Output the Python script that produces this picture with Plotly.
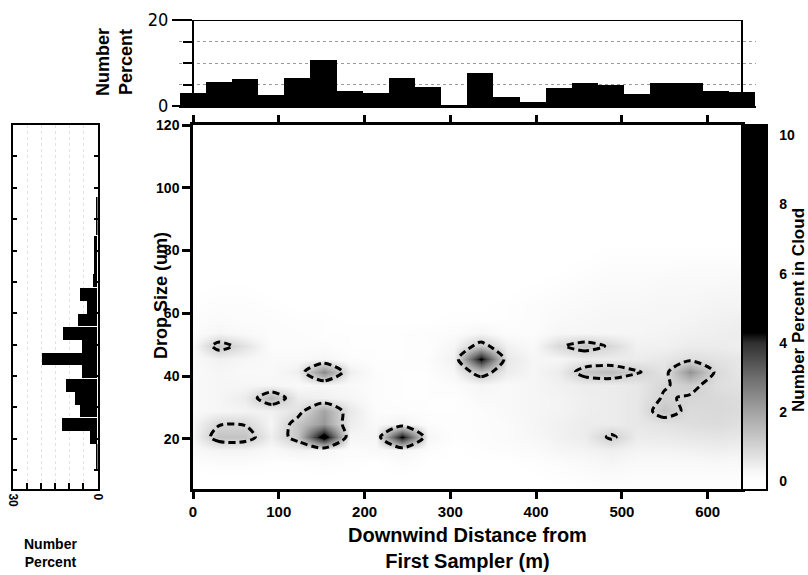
import plotly.graph_objects as go

W, H = 808, 575

# grid of the cloud map
distance = [0, 30.48, 60.95, 91.43, 121.9, 152.38, 182.86, 213.33, 243.81, 274.29, 304.76,
            335.24, 365.71, 396.19, 426.67, 457.14, 487.62, 518.1, 548.57, 579.05, 609.52, 640]
drop_size = [4, 8.14, 12.29, 16.43, 20.57, 24.71, 28.86, 33, 37.14, 41.29, 45.43, 49.57,
             53.71, 57.86, 62, 66.14, 70.29, 74.43, 78.57, 82.71, 86.86, 91, 95.14, 99.29,
             103.43, 107.57, 111.71, 115.86, 120]

# number percent per distance bin (top histogram)
dist_percent = [3.0, 5.5, 6.3, 2.6, 6.4, 10.6, 3.4, 3.0, 6.6, 4.4, 0.15,
                7.6, 2.1, 0.9, 4.2, 5.3, 4.9, 2.8, 5.3, 5.3, 3.4, 3.2]

# number percent per drop size bin (left histogram)
size_percent = [0, 0, 0.4, 0.6, 2.4, 12.6, 6.0, 7.9, 11.0, 5.4, 19.8, 5.4, 12.3,
                6.7, 3.6, 6.2, 1.5, 1.3, 1.0, 1.0, 0.6, 0.4, 0.2, 0, 0, 0, 0, 0, 0]

# number percent in cloud, one row per drop size (bottom row first)
cloud = [
    [0, 0, 0, 0, 0, 0, 0, 0, 0, 0, 0, 0, 0, 0, 0, 0, 0.05, 0.05, 0.05, 0.05, 0.05, 0.05],
    [0, 0, 0, 0, 0, 0, 0, 0, 0, 0, 0, 0, 0, 0, 0.05, 0.1, 0.15, 0.1, 0.1, 0.1, 0.1, 0.1],
    [0.05, 0.1, 0.1, 0.05, 0.05, 0.1, 0.05, 0, 0.1, 0, 0, 0, 0, 0.05, 0.1, 0.2, 0.3, 0.2, 0.2, 0.2, 0.25, 0.2],
    [0.2, 0.35, 0.35, 0.2, 0.4, 0.3, 0.1, 0.2, 0.3, 0.1, 0, 0.05, 0.1, 0.15, 0.3, 0.35, 0.45, 0.35, 0.35, 0.4, 0.45, 0.4],
    [0.3, 1.35, 1.35, 0.45, 1.3, 5.0, 0.3, 0.3, 4.5, 0.3, 0.05, 0.1, 0.15, 0.25, 0.4, 0.5, 1.12, 0.5, 0.55, 0.6, 0.65, 0.6],
    [0.3, 0.95, 0.95, 0.3, 1.3, 2.2, 0.5, 0.2, 0.4, 0.1, 0.05, 0.1, 0.15, 0.3, 0.4, 0.5, 0.5, 0.6, 0.7, 0.8, 0.85, 0.75],
    [0.2, 0.3, 0.35, 0.4, 0.7, 2.0, 0.6, 0.1, 0.1, 0.05, 0.05, 0.1, 0.2, 0.3, 0.35, 0.45, 0.5, 0.6, 1.3, 0.85, 0.9, 0.85],
    [0.2, 0.3, 0.5, 1.6, 0.5, 0.4, 0.3, 0.1, 0.05, 0.05, 0.05, 0.2, 0.2, 0.3, 0.35, 0.45, 0.5, 0.6, 1.05, 0.95, 0.9, 0.8],
    [0.2, 0.3, 0.3, 0.3, 0.2, 0.3, 0.2, 0.1, 0.05, 0.05, 0.1, 0.3, 0.2, 0.3, 0.4, 0.5, 0.5, 0.6, 0.95, 1.15, 0.8, 0.7],
    [0.2, 0.3, 0.2, 0.2, 0.45, 2.5, 0.45, 0.1, 0.05, 0.05, 0.3, 1.4, 0.5, 0.3, 0.5, 1.3, 1.5, 1.05, 0.7, 2.3, 0.9, 0.6],
    [0.2, 0.4, 0.3, 0.2, 0.2, 0.3, 0.1, 0.05, 0.05, 0.1, 0.4, 4.5, 0.6, 0.3, 0.3, 0.5, 0.5, 0.5, 0.6, 0.8, 0.7, 0.6],
    [0.2, 1.3, 0.7, 0.1, 0.1, 0.1, 0.05, 0.05, 0.05, 0.05, 0.3, 1.3, 0.4, 0.2, 0.9, 1.3, 0.9, 0.4, 0.4, 0.5, 0.5, 0.45],
    [0.1, 0.3, 0.2, 0.1, 0.1, 0.05, 0.05, 0.05, 0.05, 0.1, 0.1, 0.3, 0.1, 0.1, 0.3, 0.3, 0.3, 0.3, 0.35, 0.4, 0.45, 0.5],
    [0.1, 0.15, 0.1, 0.1, 0.05, 0.05, 0, 0, 0, 0, 0.05, 0.05, 0.05, 0.1, 0.2, 0.25, 0.3, 0.3, 0.3, 0.35, 0.4, 0.45],
    [0.05, 0.1, 0.1, 0.05, 0, 0, 0, 0, 0, 0, 0, 0, 0.05, 0.1, 0.15, 0.2, 0.25, 0.25, 0.3, 0.3, 0.35, 0.35],
    [0, 0.05, 0.05, 0, 0, 0, 0, 0, 0, 0, 0, 0, 0, 0.05, 0.1, 0.15, 0.2, 0.2, 0.25, 0.25, 0.3, 0.3],
    [0, 0, 0, 0, 0, 0, 0, 0, 0, 0, 0, 0, 0, 0, 0.05, 0.1, 0.15, 0.15, 0.2, 0.2, 0.2, 0.25],
    [0, 0, 0, 0, 0, 0, 0, 0, 0, 0, 0, 0, 0, 0, 0, 0.05, 0.1, 0.1, 0.1, 0.15, 0.15, 0.15],
    [0, 0, 0, 0, 0, 0, 0, 0, 0, 0, 0, 0, 0, 0, 0, 0, 0.05, 0.05, 0.05, 0.05, 0.05, 0.05],
    [0, 0, 0, 0, 0, 0, 0, 0, 0, 0, 0, 0, 0, 0, 0, 0, 0, 0, 0, 0, 0, 0],
    [0, 0, 0, 0, 0, 0, 0, 0, 0, 0, 0, 0, 0, 0, 0, 0, 0, 0, 0, 0, 0, 0],
    [0, 0, 0, 0, 0, 0, 0, 0, 0, 0, 0, 0, 0, 0, 0, 0, 0, 0, 0, 0, 0, 0],
    [0, 0, 0, 0, 0, 0, 0, 0, 0, 0, 0, 0, 0, 0, 0, 0, 0, 0, 0, 0, 0, 0],
    [0, 0, 0, 0, 0, 0, 0, 0, 0, 0, 0, 0, 0, 0, 0, 0, 0, 0, 0, 0, 0, 0],
    [0, 0, 0, 0, 0, 0, 0, 0, 0, 0, 0, 0, 0, 0, 0, 0, 0, 0, 0, 0, 0, 0],
    [0, 0, 0, 0, 0, 0, 0, 0, 0, 0, 0, 0, 0, 0, 0, 0, 0, 0, 0, 0, 0, 0],
    [0, 0, 0, 0, 0, 0, 0, 0, 0, 0, 0, 0, 0, 0, 0, 0, 0, 0, 0, 0, 0, 0],
    [0, 0, 0, 0, 0, 0, 0, 0, 0, 0, 0, 0, 0, 0, 0, 0, 0, 0, 0, 0, 0, 0],
    [0, 0, 0, 0, 0, 0, 0, 0, 0, 0, 0, 0, 0, 0, 0, 0, 0, 0, 0, 0, 0, 0],
]

contour_level = 1
x_ticks = [0, 100, 200, 300, 400, 500, 600]
y_ticks = [20, 40, 60, 80, 100, 120]
cbar_ticks = [0, 2, 4, 6, 8, 10]

FONT = "Liberation Sans, Arial, sans-serif"
NARROW = "Liberation Sans Narrow, DejaVu Sans Condensed, Liberation Sans, sans-serif"
BOLD = dict(family=FONT, weight="bold", color="black")

# pixel layout helpers
def px(x):
    return x / W

def py(y):
    return 1 - y / H

# main plot box in pixels
L, R, T, B = 193, 742, 125, 489
X_MIN, X_MAX = 0, 640
Y_MIN, Y_MAX = 4, 120
scale = (R - L) / (X_MAX - X_MIN)

# top histogram extends half a bin past the box
x2_min, x2_max = -16, 656

# colour scale (grey, saturated above ~4)
ZMIN, ZMAX = -0.25, 10.3
cs_vals = [ZMIN, 0, 0.3, 1, 2, 3, 4, 4.3, ZMAX]
cs_cols = ["#ffffff", "#ffffff", "#f6f6f6", "#d4d4d4", "#a3a3a3", "#6e6e6e", "#303030", "#000000", "#000000"]
colorscale = [[(v - ZMIN) / (ZMAX - ZMIN), c] for v, c in zip(cs_vals, cs_cols)]

cb_top, cb_bot = 125, 490

fig = go.Figure()

fig.add_trace(go.Heatmap(
    x=distance, y=drop_size, z=cloud, zmin=ZMIN, zmax=ZMAX, zsmooth="best",
    colorscale=colorscale, hoverinfo="skip",
    colorbar=dict(x=px(R), xanchor="left", xpad=0, y=py(cb_top), yanchor="top", ypad=0,
                  len=(cb_bot - cb_top) / H, lenmode="fraction",
                  thickness=25, thicknessmode="pixels",
                  outlinewidth=2, outlinecolor="black",
                  tickvals=cbar_ticks, ticks="outside", ticklen=9, tickcolor="rgba(0,0,0,0)",
                  tickfont=dict(size=14, **BOLD)),
))

fig.add_trace(go.Contour(
    x=distance, y=drop_size, z=cloud, autocontour=False,
    contours=dict(start=contour_level, end=contour_level + 0.5, size=1, coloring="none"),
    line=dict(color="black", width=3, dash="7px,4px", smoothing=0.8),
    showscale=False, hoverinfo="skip",
))

fig.add_trace(go.Bar(
    x=distance, y=dist_percent, width=distance[1] - distance[0],
    marker=dict(color="black", line=dict(width=0)), xaxis="x2", yaxis="y2", hoverinfo="skip",
))

fig.add_trace(go.Bar(
    x=size_percent, y=drop_size, orientation="h", width=drop_size[1] - drop_size[0],
    marker=dict(color="black", line=dict(width=0)), xaxis="x3", yaxis="y3", hoverinfo="skip",
))

fig.update_layout(
    width=W, height=H,
    margin=dict(l=0, r=0, t=0, b=0, autoexpand=False),
    paper_bgcolor="white", plot_bgcolor="white",
    showlegend=False, bargap=0,
    font=dict(family=FONT, color="black"),
    xaxis=dict(domain=[px(L), px(R)], anchor="y", range=[X_MIN, X_MAX],
               tickvals=x_ticks, ticks="outside", ticklen=7, tickwidth=2.5, tickcolor="black",
               showline=True, linewidth=2.5, linecolor="black", mirror="allticks",
               showgrid=False, zeroline=False, tickfont=dict(size=15, **BOLD)),
    yaxis=dict(domain=[py(B), py(T)], anchor="x", range=[Y_MIN, Y_MAX],
               tickvals=y_ticks, ticks="outside", ticklen=8, tickwidth=2.5, tickcolor="black",
               showline=True, linewidth=2.5, linecolor="black", mirror=True,
               showgrid=False, zeroline=False, tickfont=dict(size=14, **BOLD)),
    xaxis2=dict(domain=[px(L + x2_min * scale), px(L + x2_max * scale)], anchor="y2",
                range=[x2_min, x2_max], showticklabels=False, ticks="",
                showline=True, linewidth=2, linecolor="black",
                showgrid=False, zeroline=False),
    yaxis2=dict(domain=[py(106), py(20)], anchor="free", position=px(L), range=[0, 20],
                tickvals=[0, 20], ticks="outside", ticklen=20, tickwidth=2, tickcolor="black",
                showline=True, linewidth=2, linecolor="black", showgrid=False, zeroline=False,
                minor=dict(tickmode="array", tickvals=[5, 10, 15], ticks="outside", ticklen=9,
                           tickwidth=2, tickcolor="black", showgrid=True, gridcolor="#9a9a9a",
                           griddash="dot", gridwidth=1),
                tickfont=dict(family=NARROW, size=18, color="black")),
    xaxis3=dict(domain=[px(13.3), px(97.5)], anchor="y3", range=[30, 0],
                tickvals=[30, 25, 20, 15, 10, 5, 0], ticktext=["30", "", "", "", "", "", "0"],
                ticks="inside", ticklen=6, tickwidth=2, tickcolor="black", tickangle=90,
                showline=True, linewidth=2, linecolor="black", mirror=True,
                showgrid=True, gridcolor="#e2e2e2", griddash="dot", zeroline=False,
                tickfont=dict(size=12, **BOLD)),
    yaxis3=dict(domain=[py(B), py(T)], anchor="x3", range=[Y_MIN, Y_MAX],
                showticklabels=False, dtick=10, ticks="inside", ticklen=4, tickwidth=1.5,
                tickcolor="black", showline=True, linewidth=2, linecolor="black",
                mirror="allticks", showgrid=False, zeroline=False),
)

# frame of the top histogram
fig.add_shape(type="rect", xref="x2", yref="y2", x0=X_MIN, x1=X_MAX, y0=0, y1=20,
              line=dict(color="black", width=2), layer="below")

# contour level marker on the colour bar
lvl_y = cb_bot - (contour_level - ZMIN) / (ZMAX - ZMIN) * (cb_bot - cb_top)
fig.add_shape(type="line", xref="paper", yref="paper", x0=px(R + 1), x1=px(R + 25),
              y0=py(lvl_y), y1=py(lvl_y), line=dict(color="black", width=2, dash="4px,3px"))

annots = [
    dict(text="Downwind Distance from<br>First Sampler (m)", x=px(468), y=py(548), size=20, angle=0),
    dict(text="Drop Size (um)", x=px(161), y=py(296), size=18, angle=-90),
    dict(text="Number<br>Percent", x=px(114), y=py(62), size=18, angle=-90),
    dict(text="Number<br>Percent", x=px(50), y=py(553), size=14, angle=0),
    dict(text="Number Percent in Cloud", x=px(798), y=py(310), size=17, angle=-90),
]
for a in annots:
    fig.add_annotation(text=a["text"], x=a["x"], y=a["y"], xref="paper", yref="paper",
                       xanchor="center", yanchor="middle", showarrow=False,
                       textangle=a["angle"], font=dict(size=a["size"], **BOLD))

# the page adds a default body margin; remove it so the figure sits at the corner
fig.write_html("out.html", config={"displayModeBar": False},
               post_script="document.body.style.margin='0px';")
